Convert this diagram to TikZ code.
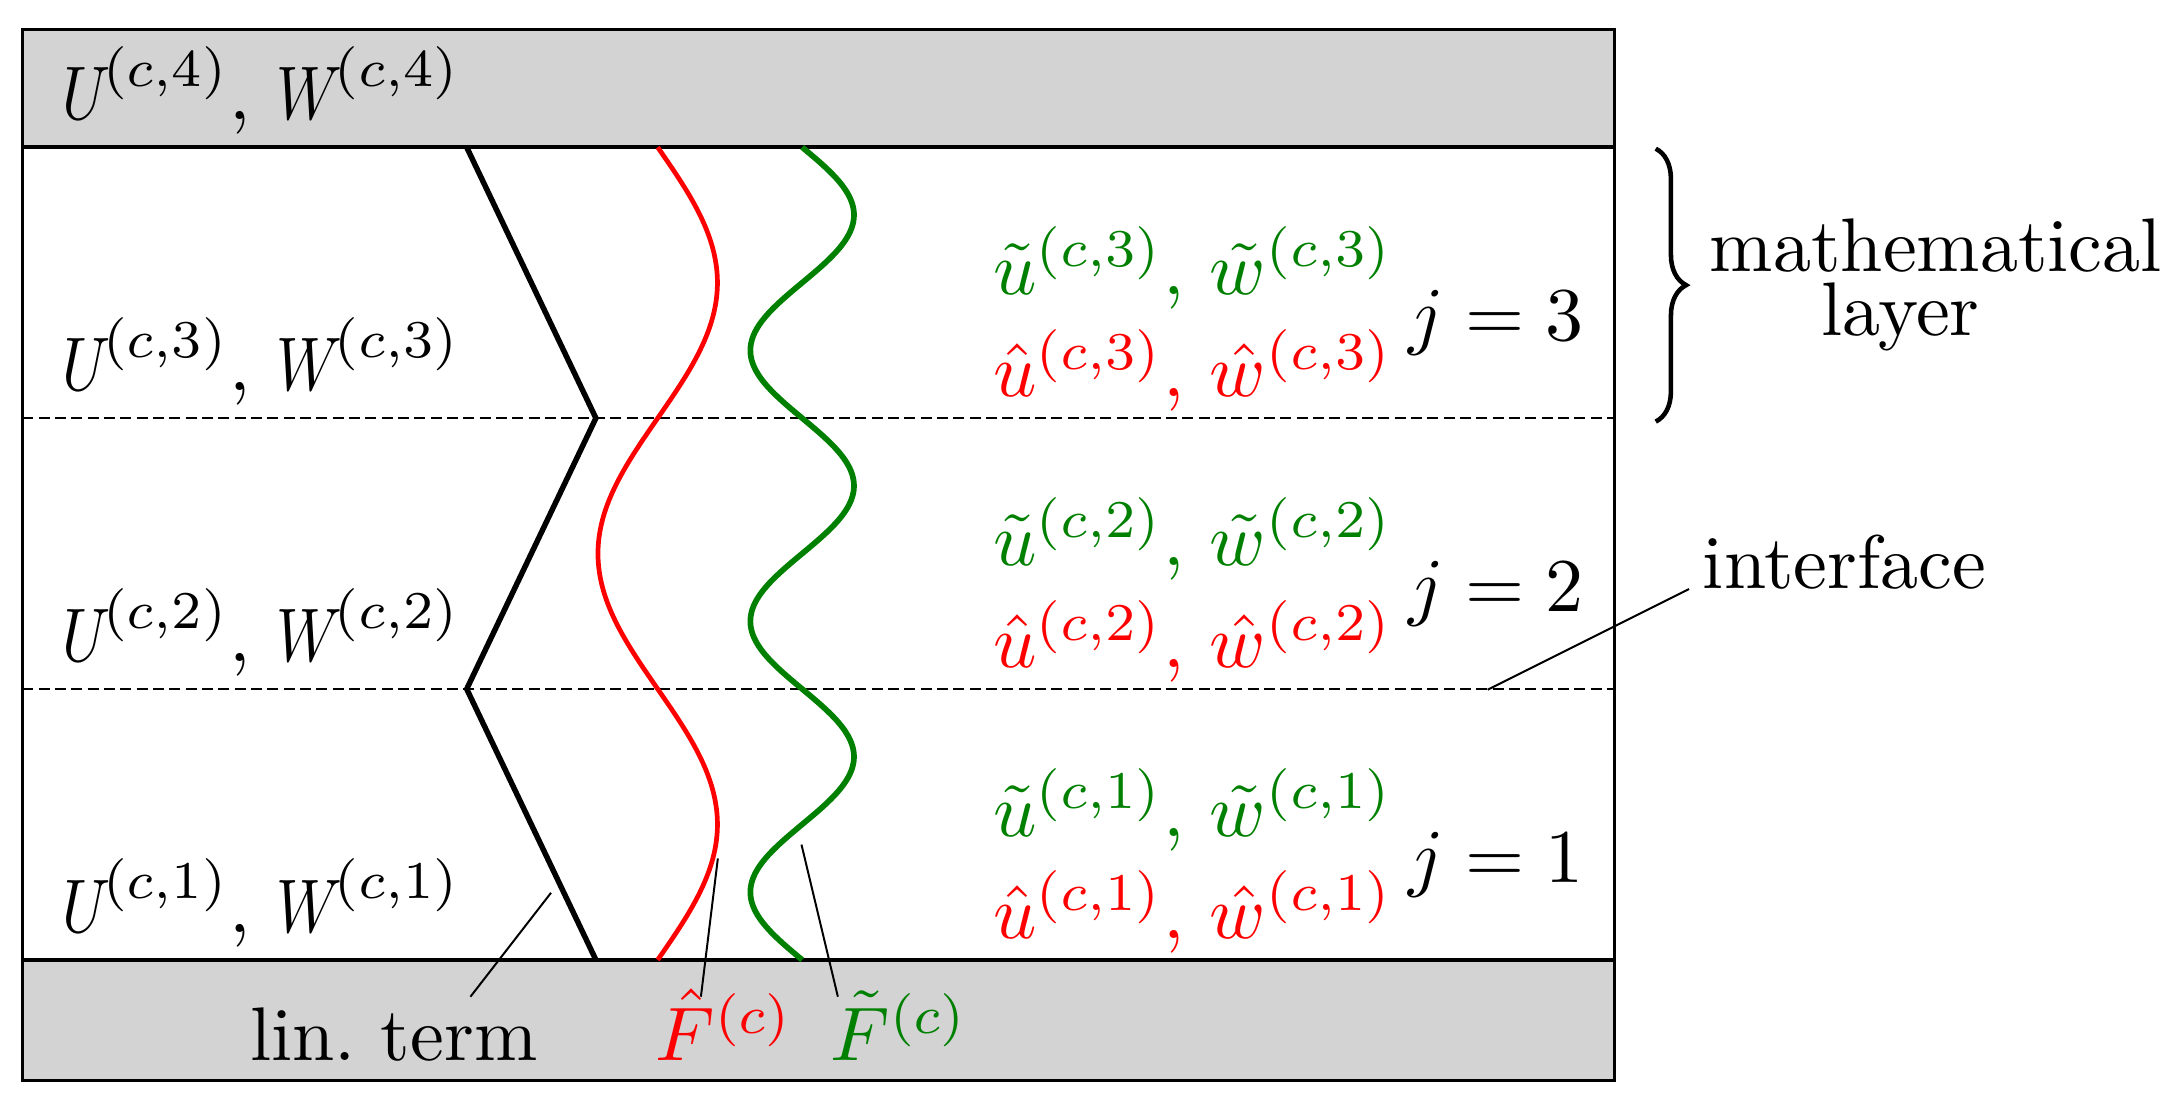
\documentclass[tikz,border=0pt]{standalone}
\usepackage{graphicx}
\usetikzlibrary{decorations.pathreplacing}
\definecolor{bandgray}{RGB}{211,211,211}
\definecolor{dkgreen}{RGB}{0,128,0}
\definecolor{pureRed}{RGB}{255,0,0}
\newcommand{\nU}{\scalebox{0.8}[1]{$U$}}
\newcommand{\nW}{\scalebox{0.8}[1]{$W$}}
\begin{document}
\begin{tikzpicture}[x=0.1828pt, y=-0.1828pt,
  txt/.style={inner sep=0pt, outer sep=0pt, anchor=base west},
  sepline/.style={line width=0.5pt},
  iface/.style={line width=0.35pt, dash pattern=on 1.45pt off 0.7pt},
  leader/.style={line width=0.26pt},
  linterm/.style={line width=0.72pt},
  fred/.style={line width=0.62pt, pureRed},
  fgreen/.style={line width=0.75pt, dkgreen},
  gtxt/.style={txt, text=dkgreen},
  rtxt/.style={txt, text=pureRed}]
\useasboundingbox (0,0) rectangle (1568,796);
% bands
\fill[bandgray] (16,21.5) rectangle (1162,106);
\fill[bandgray] (16,691) rectangle (1162,777.5);
\draw[line width=0.4pt] (16,21.5) rectangle (1162,777.5);
\draw[sepline] (16,106) -- (1162,106);
\draw[sepline] (16,691) -- (1162,691);
% interfaces
\coordinate (i3L) at (16,301); \coordinate (i3R) at (1162,301);
\coordinate (i2L) at (16,496); \coordinate (i2R) at (1162,496);
\draw[iface] (i3L) -- (i3R);
\draw[iface] (i2L) -- (i2R);
% linear term
\coordinate (p0) at (336,106);
\coordinate (p1) at (429,301);
\coordinate (p2) at (336,496);
\coordinate (p3) at (429,691);
\draw[linterm, line join=miter] (p0) -- (p1) -- (p2) -- (p3);
% curves
\draw[fred] plot[domain=0:585, samples=150, smooth] ({473.5+43*sin(0.9230769*\x)}, {\x+106});
\draw[fgreen] plot[domain=0:585, samples=150, smooth] ({577.5+37.3*sin(1.8461538*\x)}, {\x+106});
% left labels
\node[txt] (U4) at (45,86) {$\nU^{\kern-1pt(c,4)}$, $\nW^{\kern-1pt(c,4)}$};
\node[txt] (U3) at (45,281) {$\nU^{\kern-1pt(c,3)}$, $\nW^{\kern-1pt(c,3)}$};
\node[txt] (U2) at (45,476) {$\nU^{\kern-1pt(c,2)}$, $\nW^{\kern-1pt(c,2)}$};
\node[txt] (U1) at (45,671) {$\nU^{\kern-1pt(c,1)}$, $\nW^{\kern-1pt(c,1)}$};
% right labels
\node[gtxt] (g3) at (715,212) {$\tilde{u}^{(c,3)}$, $\tilde{w}^{(c,3)}$};
\node[rtxt] (r3) at (715,285.6) {$\hat{u}^{(c,3)}$, $\hat{w}^{(c,3)}$};
\node[gtxt] (g2) at (715,407) {$\tilde{u}^{(c,2)}$, $\tilde{w}^{(c,2)}$};
\node[rtxt] (r2) at (715,480.6) {$\hat{u}^{(c,2)}$, $\hat{w}^{(c,2)}$};
\node[gtxt] (g1) at (715,602) {$\tilde{u}^{(c,1)}$, $\tilde{w}^{(c,1)}$};
\node[rtxt] (r1) at (715,675.6) {$\hat{u}^{(c,1)}$, $\hat{w}^{(c,1)}$};
\node[txt] (j3) at (1014,245) {$j=3$};
\node[txt] (j2) at (1014,440) {$j=2$};
\node[txt] (j1) at (1014,635) {$j=1$};
% brace
\coordinate (bt) at (1192,107);
\coordinate (bb) at (1192,303.5);
\draw[line width=0.6pt, decorate, decoration={brace, amplitude=4pt}] (bt) -- (bb);
\node[txt] (math) at (1231,195.6) {mathematical};
\node[txt] (layer) at (1311,241.2) {layer};
% interface label
\node[txt] (ifl) at (1226,424) {interface};
\coordinate (ifA) at (1216,424);
\coordinate (ifB) at (1071,496.5);
\draw[leader] (ifA) -- (ifB);
% bottom labels
\node[txt] (lt) at (180,763.6) {lin.\ term};
\node[rtxt] (Fh) at (472,763.6) {$\hat{F}^{(c)}$};
\node[gtxt] (Ft) at (598,763.6) {$\tilde{F}^{(c)}$};
\coordinate (ltA) at (338.7,717.5);
\coordinate (ltB) at (396.7,642.7);
\draw[leader] (ltA) -- (ltB);
\coordinate (FhA) at (504.6,717.5);
\coordinate (FhB) at (516.8,618);
\draw[leader] (FhA) -- (FhB);
\coordinate (FtA) at (603.2,717.5);
\coordinate (FtB) at (577,608);
\draw[leader] (FtA) -- (FtB);
\end{tikzpicture}
\end{document}
